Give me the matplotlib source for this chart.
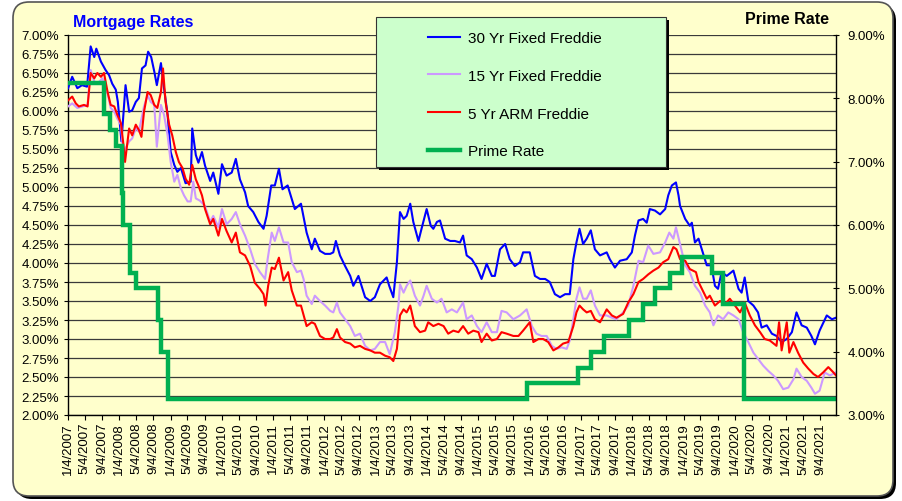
import datetime as dt
import numpy as np
import matplotlib
matplotlib.use("Agg")
import matplotlib.pyplot as plt
from matplotlib.patches import FancyBboxPatch, Rectangle
from matplotlib.transforms import IdentityTransform
from matplotlib.lines import Line2D

plt.rcParams['font.family'] = ['Liberation Sans', 'DejaVu Sans']

# ---------------- data (decimal years, percent) ----------------
t30 = [2007.01, 2007.03, 2007.09, 2007.19, 2007.28, 2007.38, 2007.45, 2007.52, 2007.56, 2007.65, 2007.74, 2007.81, 2007.87, 2007.94, 2007.98,
       2008.05, 2008.13, 2008.20, 2008.26, 2008.33, 2008.39, 2008.45, 2008.52, 2008.57, 2008.63, 2008.69, 2008.74, 2008.82, 2008.88, 2008.95,
       2009.01, 2009.08, 2009.14, 2009.21, 2009.30, 2009.40, 2009.43, 2009.50, 2009.55, 2009.62, 2009.68, 2009.78, 2009.84, 2009.94,
       2010.01, 2010.10, 2010.20, 2010.28, 2010.36, 2010.46, 2010.52, 2010.62, 2010.72, 2010.82, 2010.88, 2010.97,
       2011.04, 2011.12, 2011.19, 2011.29, 2011.37, 2011.43, 2011.55, 2011.66, 2011.76, 2011.82, 2011.92,
       2012.02, 2012.12, 2012.18, 2012.23, 2012.31, 2012.41, 2012.51, 2012.57, 2012.67, 2012.73, 2012.80, 2012.90, 2012.99,
       2013.09, 2013.22, 2013.27, 2013.35, 2013.42, 2013.48, 2013.55, 2013.61, 2013.68, 2013.74, 2013.84, 2013.90,
       2014.00, 2014.08, 2014.13, 2014.20, 2014.26, 2014.36, 2014.46, 2014.55, 2014.65, 2014.71, 2014.78, 2014.88, 2014.98,
       2015.07, 2015.17, 2015.27, 2015.33, 2015.43, 2015.53, 2015.62, 2015.72, 2015.82, 2015.88,
       2016.01, 2016.11, 2016.21, 2016.31, 2016.40, 2016.50, 2016.60, 2016.70, 2016.79, 2016.86, 2016.92, 2016.98,
       2017.05, 2017.12, 2017.20, 2017.28, 2017.38, 2017.51, 2017.57, 2017.67, 2017.77, 2017.90,
       2018.00, 2018.06, 2018.13, 2018.22, 2018.29, 2018.35, 2018.45, 2018.55, 2018.65, 2018.71, 2018.78, 2018.86, 2018.91,
       2018.94, 2019.04, 2019.13, 2019.17, 2019.23, 2019.30, 2019.40, 2019.46, 2019.55, 2019.62, 2019.68, 2019.75, 2019.85, 2019.98,
       2020.08, 2020.14, 2020.20, 2020.27, 2020.37, 2020.46, 2020.53, 2020.63, 2020.73, 2020.82, 2020.92,
       2021.02, 2021.12, 2021.21, 2021.31, 2021.41, 2021.50, 2021.57, 2021.66, 2021.80, 2021.90, 2021.98]
v30 = [6.30, 6.34, 6.45, 6.30, 6.34, 6.32, 6.85, 6.71, 6.82, 6.65, 6.54, 6.47, 6.36, 6.28, 6.12,
       5.60, 6.34, 5.99, 6.01, 6.12, 6.17, 6.56, 6.60, 6.78, 6.71, 6.52, 6.34, 6.63, 6.30, 5.95,
       5.46, 5.29, 5.20, 5.25, 5.05, 5.07, 5.77, 5.42, 5.32, 5.46, 5.28, 5.08, 5.19, 4.91,
       5.30, 5.15, 5.19, 5.37, 5.10, 4.93, 4.75, 4.67, 4.54, 4.45, 4.62, 5.02,
       5.02, 5.24, 4.97, 5.02, 4.84, 4.71, 4.78, 4.40, 4.18, 4.32, 4.16,
       4.12, 4.12, 4.14, 4.29, 4.10, 3.96, 3.83, 3.70, 3.83, 3.70, 3.55, 3.50, 3.55,
       3.72, 3.81, 3.70, 3.55, 4.01, 4.67, 4.58, 4.62, 4.78, 4.54, 4.29, 4.45,
       4.71, 4.49, 4.45, 4.54, 4.56, 4.32, 4.29, 4.29, 4.27, 4.36, 4.10, 4.05, 3.94,
       3.79, 3.99, 3.83, 3.83, 4.18, 4.25, 4.05, 3.96, 4.01, 4.14,
       4.14, 3.83, 3.79, 3.79, 3.75, 3.59, 3.55, 3.59, 3.59, 4.05, 4.27, 4.45,
       4.25, 4.32, 4.43, 4.18, 4.10, 4.14, 4.05, 3.94, 4.03, 4.05,
       4.14, 4.36, 4.56, 4.58, 4.53, 4.71, 4.69, 4.64, 4.71, 4.89, 5.02, 5.06, 4.89,
       4.75, 4.58, 4.49, 4.53, 4.27, 4.32, 4.10, 3.97, 3.97, 3.70, 3.66, 3.88, 3.83, 3.90,
       3.66, 3.61, 3.81, 3.50, 3.44, 3.35, 3.15, 3.18, 3.07, 3.04, 2.96,
       3.00, 3.09, 3.35, 3.18, 3.15, 3.04, 2.93, 3.11, 3.31, 3.26, 3.28]

t15 = [2007.01, 2007.09, 2007.19, 2007.29, 2007.39, 2007.45, 2007.52, 2007.58, 2007.68, 2007.78, 2007.84, 2007.91, 2007.97,
       2008.04, 2008.09, 2008.13, 2008.20, 2008.26, 2008.33, 2008.39, 2008.49, 2008.56, 2008.62, 2008.69, 2008.74, 2008.82, 2008.88, 2008.95,
       2009.01, 2009.08, 2009.14, 2009.21, 2009.27, 2009.34, 2009.40, 2009.45, 2009.50, 2009.58, 2009.68, 2009.78, 2009.84, 2009.94,
       2010.01, 2010.10, 2010.20, 2010.28, 2010.36, 2010.46, 2010.56, 2010.65, 2010.75, 2010.85, 2010.90, 2010.98,
       2011.04, 2011.12, 2011.21, 2011.30, 2011.37, 2011.47, 2011.55, 2011.60, 2011.66, 2011.76, 2011.82, 2011.92,
       2012.02, 2012.12, 2012.18, 2012.25, 2012.31, 2012.41, 2012.51, 2012.60, 2012.70, 2012.80, 2012.90, 2012.99,
       2013.09, 2013.19, 2013.28, 2013.38, 2013.45, 2013.48, 2013.55, 2013.61, 2013.68, 2013.77, 2013.87, 2013.94,
       2014.00, 2014.10, 2014.20, 2014.29, 2014.39, 2014.49, 2014.59, 2014.71, 2014.78, 2014.88, 2014.98,
       2015.07, 2015.17, 2015.27, 2015.37, 2015.46, 2015.56, 2015.69, 2015.82, 2015.95,
       2016.05, 2016.14, 2016.24, 2016.34, 2016.44, 2016.53, 2016.63, 2016.73, 2016.79, 2016.86, 2016.92, 2016.98,
       2017.05, 2017.12, 2017.20, 2017.28, 2017.38, 2017.51, 2017.61, 2017.70, 2017.83, 2017.93,
       2018.03, 2018.13, 2018.22, 2018.32, 2018.42, 2018.55, 2018.65, 2018.73, 2018.81, 2018.86,
       2018.94, 2019.04, 2019.13, 2019.23, 2019.33, 2019.43, 2019.52, 2019.59, 2019.68, 2019.78, 2019.88, 2019.98,
       2020.08, 2020.17, 2020.27, 2020.37, 2020.46, 2020.56, 2020.66, 2020.76, 2020.85, 2020.95,
       2021.05, 2021.15, 2021.21, 2021.31, 2021.41, 2021.50, 2021.57, 2021.66, 2021.76, 2021.86, 2021.98]
v15 = [6.06, 6.10, 6.04, 6.06, 6.08, 6.54, 6.39, 6.36, 6.43, 6.23, 6.04, 5.99, 5.90,
       5.82, 5.42, 5.51, 5.60, 5.64, 5.77, 5.73, 6.06, 6.21, 6.12, 6.08, 5.53, 6.08, 5.95, 5.68,
       5.33, 5.07, 5.16, 4.98, 4.89, 4.81, 4.81, 5.07, 4.85, 4.82, 4.75, 4.54, 4.62, 4.47,
       4.71, 4.51, 4.58, 4.67, 4.51, 4.36, 4.18, 3.99, 3.88, 3.79, 4.05, 4.40,
       4.29, 4.47, 4.27, 4.27, 4.01, 3.88, 3.90, 3.79, 3.57, 3.46, 3.57, 3.50,
       3.44, 3.37, 3.35, 3.48, 3.35, 3.26, 3.17, 3.04, 3.07, 2.91, 2.85, 2.87,
       2.96, 2.96, 2.80, 3.09, 3.44, 3.72, 3.61, 3.70, 3.77, 3.57, 3.44, 3.57,
       3.70, 3.53, 3.48, 3.53, 3.35, 3.39, 3.35, 3.48, 3.26, 3.31, 3.17,
       3.09, 3.22, 3.09, 3.09, 3.37, 3.35, 3.26, 3.31, 3.39,
       3.17, 3.07, 3.04, 3.04, 2.91, 2.87, 2.89, 2.87, 2.98, 3.26, 3.53, 3.68,
       3.53, 3.53, 3.64, 3.44, 3.31, 3.31, 3.28, 3.26, 3.35, 3.44,
       3.70, 4.03, 4.01, 4.23, 4.12, 4.14, 4.27, 4.40, 4.32, 4.47,
       4.25, 3.97, 3.88, 3.70, 3.61, 3.44, 3.35, 3.18, 3.31, 3.26, 3.35, 3.31,
       3.26, 3.09, 2.96, 2.82, 2.74, 2.65, 2.58, 2.52, 2.45, 2.34,
       2.36, 2.47, 2.61, 2.50, 2.45, 2.36, 2.28, 2.32, 2.56, 2.52, 2.56]

t5 = [2007.01, 2007.09, 2007.16, 2007.22, 2007.32, 2007.39, 2007.45, 2007.52, 2007.58, 2007.65, 2007.71, 2007.78, 2007.84, 2007.91, 2007.97,
      2008.04, 2008.09, 2008.12, 2008.20, 2008.26, 2008.33, 2008.39, 2008.44, 2008.49, 2008.56, 2008.62, 2008.69, 2008.75, 2008.82, 2008.86, 2008.91, 2008.98,
      2009.04, 2009.11, 2009.17, 2009.24, 2009.30, 2009.37, 2009.43, 2009.50, 2009.55, 2009.62, 2009.68, 2009.78, 2009.84, 2009.94,
      2010.01, 2010.10, 2010.20, 2010.28, 2010.36, 2010.46, 2010.56, 2010.65, 2010.75, 2010.82, 2010.86, 2010.91, 2010.98,
      2011.04, 2011.12, 2011.21, 2011.30, 2011.37, 2011.47, 2011.55, 2011.66, 2011.76, 2011.82, 2011.92,
      2012.02, 2012.12, 2012.18, 2012.25, 2012.31, 2012.41, 2012.51, 2012.60, 2012.70, 2012.80, 2012.90, 2012.99,
      2013.09, 2013.19, 2013.28, 2013.35, 2013.42, 2013.48, 2013.55, 2013.61, 2013.68, 2013.77, 2013.87, 2013.97,
      2014.03, 2014.13, 2014.23, 2014.33, 2014.42, 2014.52, 2014.62, 2014.71, 2014.81, 2014.91,
      2015.01, 2015.07, 2015.17, 2015.27, 2015.37, 2015.46, 2015.56, 2015.69, 2015.79, 2015.88,
      2016.01, 2016.08, 2016.18, 2016.27, 2016.37, 2016.47, 2016.57, 2016.66, 2016.76, 2016.86, 2016.92, 2016.98,
      2017.05, 2017.12, 2017.20, 2017.28, 2017.38, 2017.51, 2017.61, 2017.70, 2017.83, 2017.93,
      2018.03, 2018.13, 2018.22, 2018.32, 2018.42, 2018.52, 2018.61, 2018.71, 2018.81, 2018.87,
      2018.94, 2019.04, 2019.13, 2019.25, 2019.30, 2019.46, 2019.52, 2019.62, 2019.72, 2019.82, 2019.91,
      2020.01, 2020.11, 2020.20, 2020.30, 2020.40, 2020.50, 2020.59, 2020.69, 2020.82, 2020.87, 2020.92,
      2021.02, 2021.07, 2021.15, 2021.24, 2021.34, 2021.44, 2021.54, 2021.63, 2021.73, 2021.83, 2021.93, 2021.98]
v5 = [6.14, 6.19, 6.10, 6.06, 6.08, 6.06, 6.50, 6.43, 6.50, 6.45, 6.50, 6.25, 6.08, 6.06, 5.95,
      5.84, 5.55, 5.33, 5.77, 5.68, 5.82, 5.75, 5.66, 5.99, 6.25, 6.21, 6.08, 6.04, 6.25, 6.56, 6.12, 5.82,
      5.68, 5.46, 5.33, 5.25, 5.11, 5.03, 5.29, 5.10, 5.02, 4.89, 4.71, 4.51, 4.58, 4.36,
      4.58, 4.42, 4.27, 4.40, 4.14, 4.10, 3.96, 3.74, 3.66, 3.59, 3.44, 3.70, 3.94,
      3.92, 4.07, 3.77, 3.88, 3.64, 3.44, 3.44, 3.17, 3.22, 3.20, 3.04,
      3.00, 3.00, 3.02, 3.13, 3.02, 2.96, 2.94, 2.89, 2.91, 2.87, 2.85, 2.82,
      2.82, 2.78, 2.76, 2.71, 2.87, 3.31, 3.39, 3.35, 3.44, 3.17, 3.09, 3.11,
      3.22, 3.17, 3.20, 3.17, 3.07, 3.11, 3.09, 3.17, 3.07, 3.11,
      3.09, 2.96, 3.07, 2.98, 3.00, 3.09, 3.07, 3.04, 3.04, 3.11,
      3.22, 2.96, 3.00, 3.00, 2.96, 2.85, 2.89, 2.94, 2.96, 3.17, 3.35, 3.44,
      3.39, 3.35, 3.37, 3.26, 3.22, 3.39, 3.31, 3.28, 3.33, 3.48,
      3.59, 3.75, 3.79, 3.85, 3.90, 3.94, 4.01, 4.05, 4.21, 4.18,
      4.05, 4.03, 3.92, 3.88, 3.75, 3.53, 3.57, 3.44, 3.50, 3.46, 3.53,
      3.44, 3.35, 3.48, 3.31, 3.18, 3.09, 3.00, 2.98, 2.91, 3.22, 2.85,
      3.22, 2.82, 2.96, 2.82, 2.69, 2.61, 2.54, 2.50, 2.56, 2.63, 2.56, 2.52]

tprime = [2007.01, 2007.71, 2007.83, 2007.94, 2008.06, 2008.08, 2008.21, 2008.33, 2008.77, 2008.82, 2008.96,
          2015.96, 2016.95, 2017.20, 2017.45, 2017.95, 2018.22, 2018.45, 2018.74, 2018.97,
          2019.56, 2019.78, 2020.19, 2021.98]
vprime = [8.25, 7.75, 7.50, 7.25, 6.50, 6.00, 5.25, 5.00, 4.50, 4.00, 3.25,
          3.50, 3.75, 4.00, 4.25, 4.50, 4.75, 5.00, 5.25, 5.50,
          5.25, 4.75, 3.25, 3.25]

series_names = ["30 Yr Fixed Freddie", "15 Yr Fixed Freddie", "5 Yr ARM Freddie", "Prime Rate"]
tick_years = list(range(2007, 2022))
tick_months = [1, 5, 9]

assert len(t30) == len(v30) and len(t15) == len(v15) and len(t5) == len(v5) and len(tprime) == len(vprime)


def dec_year(y, m, d):
    start = dt.date(y, 1, 1)
    n = (dt.date(y + 1, 1, 1) - start).days
    return y + (dt.date(y, m, d) - start).days / n


# ---------------- figure ----------------
W, H = 903, 502
fig = plt.figure(figsize=(W / 100, H / 100), dpi=100, facecolor='white')

# rounded background panel with shadow (pixel coordinates)
shadow = FancyBboxPatch((16, 2), 880, 494, boxstyle='round,pad=0,rounding_size=16',
                        transform=IdentityTransform(), facecolor='black', edgecolor='none', zorder=-3)
panel = FancyBboxPatch((13, 5), 880, 494, boxstyle='round,pad=0,rounding_size=16',
                       transform=IdentityTransform(), facecolor='#FFFFCC', edgecolor='#555555',
                       linewidth=1.2, zorder=-2)
fig.patches.extend([shadow, panel])

L, R, T, B = 68, 836, 36, 416
ax = fig.add_axes([L / W, 1 - B / H, (R - L) / W, (B - T) / H])
ax.set_facecolor('#FFFFCC')
ax2 = ax.twinx()

c30, c15, c5, cp = '#0000FF', '#CC99FF', '#FF0000', '#00B050'
ax.plot(t30, v30, color=c30, lw=1.5, zorder=3)
ax.plot(t15, v15, color=c15, lw=1.5, zorder=3)
ax.plot(t5, v5, color=c5, lw=1.5, zorder=3)
ax2.plot(tprime, vprime, color=cp, lw=3.2, drawstyle='steps-post',
         solid_joinstyle='miter', solid_capstyle='butt')

x0 = dec_year(2007, 1, 4)
ax.set_xlim(x0, 2021.98)
ax.set_ylim(2.0, 7.0)
ax2.set_ylim(3.0, 9.0)

yt = np.arange(2.0, 7.001, 0.25)
ax.set_yticks(yt)
ax.set_yticklabels([f'{v:.2f}%' for v in yt], fontsize=9.5)
ax.yaxis.grid(True, color='#3a3a3a', lw=0.9)
ax.set_axisbelow(True)

xt = [dec_year(y, m, 4) for y in tick_years for m in tick_months]
xl = [f'{m}/4/{y}' for y in tick_years for m in tick_months]
ax.set_xticks(xt)
ax.set_xticklabels(xl, rotation=90, fontsize=9.5)
ax.tick_params(axis='x', length=3.5, pad=1.5, color='black')
ax.tick_params(axis='y', length=3, pad=3.5, color='black')

yt2 = np.arange(3.0, 9.001, 1.0)
ax2.set_yticks(yt2)
ax2.set_yticklabels([f'{v:.2f}%' for v in yt2], fontsize=9.5)
ax2.tick_params(axis='y', direction='inout', length=5, pad=6, color='black')

for a in (ax, ax2):
    a.spines['top'].set_visible(False)
ax.spines['right'].set_visible(False)
ax2.spines['left'].set_visible(False)
ax2.spines['bottom'].set_visible(False)
for s in ('left', 'bottom'):
    ax.spines[s].set_color('black')
    ax.spines[s].set_linewidth(1.0)
ax2.spines['right'].set_color('black')
ax2.spines['right'].set_linewidth(1.0)

# titles
fig.text(73 / W, 1 - 23 / H, 'Mortgage Rates', color='#0000FF', fontsize=11.5,
         fontweight='bold', ha='left', va='center')
fig.text(787 / W, 1 - 20 / H, 'Prime Rate', color='black', fontsize=11.5,
         fontweight='bold', ha='center', va='center')

# legend box
lg_shadow = Rectangle((379, H - 171), 290, 150, transform=IdentityTransform(),
                      facecolor='black', edgecolor='none', zorder=3)
lg_box = Rectangle((376, H - 168), 290, 150, transform=IdentityTransform(),
                   facecolor='#CCFFCC', edgecolor='#333333', linewidth=0.8, zorder=4)
fig.patches.extend([lg_shadow, lg_box])

handles = [Line2D([], [], color=c30, lw=1.5), Line2D([], [], color=c15, lw=1.5),
           Line2D([], [], color=c5, lw=1.5), Line2D([], [], color=cp, lw=3.2)]
leg = fig.legend(handles, series_names, loc='upper left',
                 bbox_to_anchor=(428 / W, 1 - 32 / H), frameon=False,
                 fontsize=11, borderpad=0, borderaxespad=0, handlelength=2.1,
                 handletextpad=0.5, labelspacing=1.56)
leg.set_zorder(6)

fig.savefig('out.png', dpi=100, facecolor='white')
